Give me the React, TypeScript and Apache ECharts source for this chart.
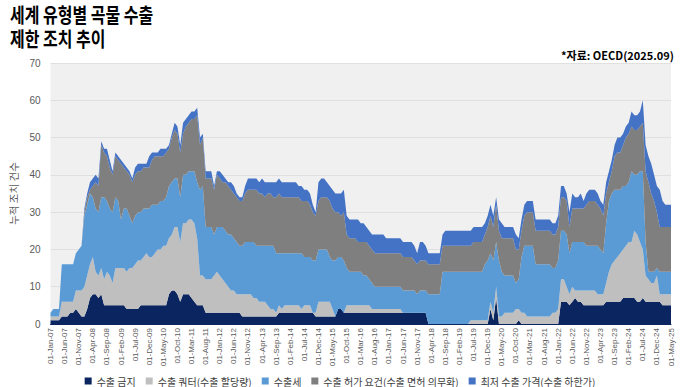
import React, { useEffect, useRef } from "react";
import * as echarts from "echarts";

const MONTHS = ["Jan", "Feb", "Mar", "Apr", "May", "Jun", "Jul", "Aug", "Sep", "Oct", "Nov", "Dec"];
// monthly categories Jan-2007 .. May-2025
const categories: string[] = [];
for (let y = 2007; y <= 2025; y++) {
  for (let m = 0; m < 12; m++) {
    if (y === 2025 && m > 4) break;
    categories.push(`01-${MONTHS[m]}-${String(y % 100).padStart(2, "0")}`);
  }
}

const seriesNames = [
  "수출 금지",
  "수출 쿼터(수출 할당량)",
  "수출세",
  "수출 허가 요건(수출 면허 의무화)",
  "최저 수출 가격(수출 하한가)",
];

const exportBan = [
  1,1,1,1,2,2,2,3,3,4,3,2,
  2,4,7,8,8,7,8,5,5,5,5,5,
  5,5,5,4,4,4,4,4,5,5,5,5,
  5,5,5,5,5,5,8,9,9,8,6,8,
  8,8,7,6,5,5,5,3,3,3,3,3,
  3,3,3,3,3,3,3,3,2,2,2,2,
  2,2,2,2,2,2,2,2,2,3,3,3,
  3,3,3,3,3,3,3,3,3,3,2,2,
  2,2,2,2,2,2,4,4,3,3,3,3,
  3,3,3,3,3,3,3,3,3,3,3,3,
  3,3,3,3,3,3,3,3,3,3,3,3,
  3,3,0,0,0,0,0,0,0,0,0,0,
  0,0,0,0,0,0,0,0,0,0,0,0,
  4,1,7,0,0,0,0,0,0,0,1,0,
  0,0,0,0,0,0,0,0,0,0,0,0,
  0,6,6,6,5,6,7,6,6,5,5,5,
  5,5,5,5,5,6,6,6,6,6,6,7,
  7,7,7,7,6,6,7,6,6,6,6,6,
  6,5,5,5,5,
];

const exportQuota = [
  1,1,1,1,4,4,4,3,3,5,6,7,
  8,9,9,10,6,6,7,7,9,8,6,10,
  10,10,10,10,11,11,12,13,12,13,14,13,
  13,14,15,15,16,16,15,15,17,18,16,19,
  19,20,21,21,18,8,8,9,9,9,10,11,
  10,9,8,7,6,6,5,5,6,6,6,6,
  5,5,4,4,4,3,2,2,1,2,1,2,
  2,2,2,2,2,1,2,2,2,0,1,4,
  4,4,4,4,2,0,0,0,0,2,2,2,
  2,2,2,2,2,2,1,1,1,1,1,1,
  1,1,1,1,1,0,0,0,0,0,0,0,
  0,0,0,0,0,0,0,0,0,0,0,0,
  0,0,0,0,0,1,1,1,1,1,1,1,
  2,2,3,2,2,3,3,3,3,4,3,3,
  3,2,2,2,2,2,2,2,2,2,3,3,
  4,6,6,4,3,4,2,3,3,4,4,4,
  4,4,3,3,3,5,8,10,11,12,13,13,
  14,15,15,18,18,16,13,7,6,5,5,7,
  2,3,3,3,3,
];

const exportTax = [
  1,2,2,2,10,10,10,10,10,10,11,12,
  19,19,19,16,17,17,19,22,19,18,19,19,
  18,13,16,17,14,12,13,13,13,13,12,13,
  14,13,12,13,12,13,14,14,13,13,12,13,
  13,13,13,14,15,23,24,14,14,14,11,12,
  13,14,14,14,15,14,14,13,13,14,14,14,
  15,14,15,15,15,16,17,17,16,14,15,14,
  14,14,14,14,14,15,13,13,13,14,14,14,
  14,14,14,12,13,15,14,14,14,10,9,9,
  9,9,9,8,8,7,7,6,6,6,6,6,
  6,6,6,6,6,6,6,6,6,6,5,6,
  6,6,8,8,8,8,8,14,14,14,14,14,
  14,14,14,14,14,13,13,13,13,13,15,16,
  13,14,12,15,12,10,10,10,10,7,8,15,
  18,19,19,19,14,14,14,14,14,14,12,12,
  13,13,13,14,11,12,13,13,13,13,12,12,
  12,12,13,12,11,16,19,19,19,18,17,17,
  16,16,19,15,16,19,21,9,2,3,3,2,
  6,6,6,6,6,
];

const exportLicense = [
  0,0,0,0,0,0,0,0,0,0,0,0,
  1,2,1,3,7,7,14,12,12,11,10,11,
  11,15,11,10,11,11,11,11,11,11,11,11,
  12,13,13,12,12,12,10,12,13,12,12,11,
  13,13,14,14,18,12,13,13,13,13,12,14,
  13,12,13,13,12,12,12,12,12,13,14,14,
  14,15,14,14,13,14,14,13,15,16,15,15,
  15,15,15,15,15,14,15,15,14,13,12,13,
  14,14,14,15,14,13,12,11,13,9,9,9,
  9,8,8,9,9,9,9,9,9,9,9,9,
  9,9,9,9,9,9,9,9,9,8,8,8,
  8,8,8,8,8,8,8,7,7,7,7,7,
  7,7,7,7,7,7,8,8,8,8,8,9,
  10,9,10,8,9,10,10,10,10,9,8,7,
  8,9,9,9,9,9,9,9,9,9,9,9,
  9,9,9,9,7,9,9,9,9,9,11,12,
  12,12,11,11,10,8,5,6,9,10,10,11,
  13,13,12,12,12,12,13,19,24,21,19,15,
  12,12,12,12,12,
];

const exportMinPrice = [
  0,0,0,0,0,0,0,0,0,0,0,0,
  1,1,2,2,2,2,1,1,2,2,1,1,
  1,1,1,1,1,1,2,2,2,1,1,3,
  2,1,1,2,2,1,1,1,2,2,2,3,
  2,2,2,2,2,2,1,2,2,2,1,1,
  2,2,1,1,2,2,1,1,1,2,3,3,
  3,3,3,4,4,3,3,4,4,4,4,4,
  4,4,4,4,3,4,3,3,3,2,1,5,
  5,5,4,4,5,5,5,6,6,5,5,5,
  5,6,5,5,4,4,4,5,5,5,5,4,
  4,4,4,4,4,4,4,4,4,4,3,5,
  5,4,3,3,3,3,3,3,4,4,4,4,
  4,4,4,4,4,4,4,4,4,4,3,3,
  3,3,2,3,4,3,3,3,3,4,3,3,
  3,3,3,3,3,3,3,3,3,3,3,3,
  3,3,3,2,4,4,3,3,4,2,3,3,
  3,3,3,2,3,3,3,3,3,4,4,3,
  3,3,4,4,4,4,6,7,7,8,7,7,
  10,7,6,6,6,
];

const seriesData = [exportBan, exportQuota, exportTax, exportLicense, exportMinPrice];
const seriesColors = ["#0b2560", "#bfbfbf", "#5b9bd5", "#7f7f7f", "#4472c4"];

const yTicks = { min: 0, max: 70, interval: 10 };

const KR = "'Noto Sans CJK KR', 'Noto Sans', sans-serif";
const LAT = "'Liberation Sans', Arial, 'Noto Sans CJK KR', sans-serif";

export default function App() {
  const ref = useRef<HTMLDivElement>(null);

  useEffect(() => {
    document.body.style.margin = "0";
    if (!ref.current) return;
    const chart = echarts.init(ref.current, undefined, { renderer: "svg" });
    chart.setOption({
      animation: false,
      backgroundColor: "#ffffff",
      graphic: [
        {
          type: "text",
          x: 10,
          y: 2,
          scaleX: 0.78,
          style: {
            text: "세계 유형별 곡물 수출\n제한 조치 추이",
            fontSize: 20.5,
            fontWeight: "bold",
            fontFamily: KR,
            lineHeight: 24,
            fill: "#000000",
            verticalAlign: "top",
          },
        },
        {
          type: "text",
          right: 6,
          top: 49,
          style: {
            text: "*자료: OECD(2025.09)",
            fontSize: 11,
            fontWeight: "bold",
            fontFamily: KR,
            fill: "#000000",
          },
        },
      ],
      grid: {
        left: 37,
        right: 9,
        top: 63,
        bottom: 63,
        show: true,
        backgroundColor: "#f0f0f0",
        borderWidth: 0,
      },
      legend: {
        top: 371,
        left: "center",
        icon: "rect",
        itemWidth: 7,
        itemHeight: 7,
        itemGap: 10,
        data: seriesNames,
        textStyle: { fontSize: 10, color: "#404040", fontFamily: KR },
      },
      xAxis: {
        type: "category",
        data: categories,
        boundaryGap: false,
        axisLine: { show: true, lineStyle: { color: "#0b2560", width: 1 } },
        axisTick: { show: false },
        axisLabel: {
          interval: 4,
          rotate: 90,
          fontSize: 8,
          color: "#595959",
          fontFamily: LAT,
          margin: 4,
        },
        splitLine: { show: false },
      },
      yAxis: {
        type: "value",
        min: yTicks.min,
        max: yTicks.max,
        interval: yTicks.interval,
        name: "누적 조치 건수",
        nameLocation: "middle",
        nameRotate: 90,
        nameGap: 24,
        nameTextStyle: { fontSize: 10.5, color: "#595959", fontFamily: KR },
        axisLine: { show: false },
        axisTick: { show: false },
        axisLabel: { fontSize: 10, color: "#595959", fontFamily: LAT, margin: 10 },
        splitLine: { lineStyle: { color: "#e0e0e0", width: 1 } },
      },
      series: seriesNames.map((name, i) => ({
        name,
        type: "line",
        stack: "total",
        data: seriesData[i],
        symbol: "none",
        showSymbol: false,
        color: seriesColors[i],
        itemStyle: { color: seriesColors[i] },
        lineStyle: { width: 0, color: seriesColors[i] },
        areaStyle: { color: seriesColors[i], opacity: 1 },
        emphasis: { disabled: true },
        z: 2,
      })),
    });
    return () => chart.dispose();
  }, []);

  return <div ref={ref} style={{ width: 680, height: 387 }} />;
}
